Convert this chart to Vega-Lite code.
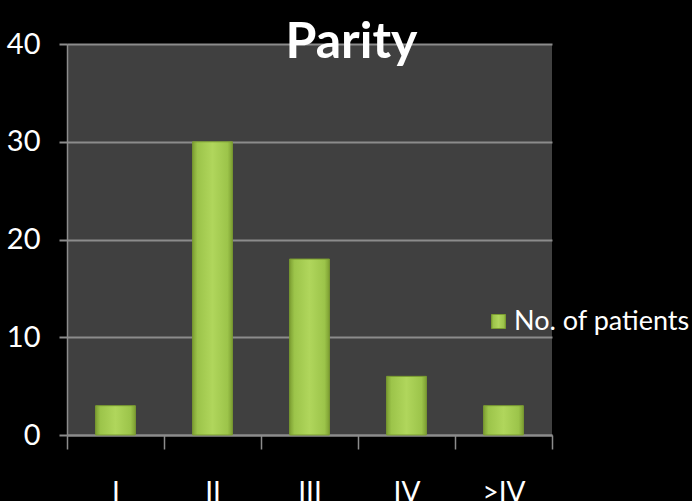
{
  "$schema": "https://vega.github.io/schema/vega-lite/v6.json",
  "autosize": {"type": "none"},
  "width": 485,
  "height": 391,
  "padding": {"left": 67, "top": 44, "right": 140, "bottom": 66},
  "background": "#000000",
  "title": {
    "text": "Parity",
    "font": "Lato",
    "fontSize": 50,
    "fontWeight": "bold",
    "color": "#ffffff",
    "anchor": "middle",
    "frame": "group",
    "dx": 42,
    "offset": -38
  },
  "data": {
    "values": [
      {"parity": "I", "patients": 3, "series": "No. of patients"},
      {"parity": "II", "patients": 30, "series": "No. of patients"},
      {"parity": "III", "patients": 18, "series": "No. of patients"},
      {"parity": "IV", "patients": 6, "series": "No. of patients"},
      {"parity": ">IV", "patients": 3, "series": "No. of patients"}
    ]
  },
  "mark": {
    "type": "bar",
    "width": {"band": 0.41},
    "strokeWidth": 1,
    "fill": {"gradient": "linear", "x1": 0, "y1": 0, "x2": 1, "y2": 0, "stops": [{"offset": 0, "color": "#7d9f33"}, {"offset": 0.12, "color": "#9cc44a"}, {"offset": 0.5, "color": "#b0d65c"}, {"offset": 0.88, "color": "#9cc44a"}, {"offset": 1, "color": "#7d9f33"}]}
  },
  "encoding": {
    "x": {
      "field": "parity",
      "type": "nominal",
      "sort": null,
      "scale": {"paddingInner": 0, "paddingOuter": 0},
      "axis": {
        "title": null,
        "labelAngle": 0,
        "tickBand": "extent",
        "tickSize": 14,
        "tickColor": "#8c8c8c",
        "tickWidth": 1.5,
        "domainColor": "#8c8c8c",
        "domainWidth": 2,
        "labelColor": "#ffffff",
        "labelFont": "Lato",
        "labelFontSize": 28,
        "labelPadding": 30
      }
    },
    "y": {
      "field": "patients",
      "type": "quantitative",
      "scale": {"domain": [0, 40]},
      "axis": {
        "title": null,
        "values": [0, 10, 20, 30, 40],
        "tickSize": 8,
        "tickColor": "#8c8c8c",
        "tickWidth": 2,
        "domain": true,
        "domainColor": "#8c8c8c",
        "domainWidth": 1.5,
        "grid": true,
        "gridColor": "#8c8c8c",
        "gridWidth": 2,
        "labelColor": "#ffffff",
        "labelFont": "Lato",
        "labelFontSize": 29,
        "labelPadding": 19
      }
    },
    "stroke": {
      "field": "series",
      "type": "nominal",
      "scale": {"range": ["#7a9c30"]},
      "legend": {
        "title": null,
        "orient": "none",
        "legendX": 418,
        "legendY": 264,
        "symbolType": "square",
        "symbolSize": 196,
        "symbolFillColor": "#a6cc52",
        "symbolStrokeWidth": 1,
        "labelColor": "#ffffff",
        "labelFont": "Lato",
        "labelFontSize": 27,
        "labelOffset": 2,
        "labelLimit": 300
      }
    }
  },
  "config": {
    "view": {"fill": "#404040", "stroke": null}
  }
}
